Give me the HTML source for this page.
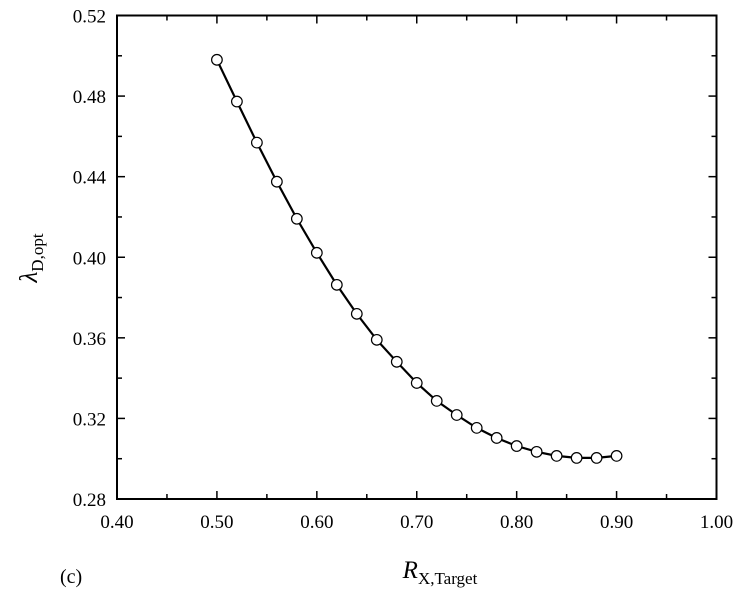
<!DOCTYPE html>
<html><head><meta charset="utf-8"><style>
html,body{margin:0;padding:0;background:#fff;}
svg{display:block;font-family:"Liberation Serif",serif;}
.tl{font-size:19px;font-family:"Liberation Serif",serif;}
</style></head><body>
<svg id="chart" width="745" height="591">
<g id="plot"></g>
</svg>
<script>
const xValues=[0.50,0.52,0.54,0.56,0.58,0.60,0.62,0.64,0.66,0.68,0.70,0.72,0.74,0.76,0.78,0.80,0.82,0.84,0.86,0.88,0.90];
const yValues=[0.498,0.4773,0.4569,0.4375,0.4191,0.4022,0.3863,0.3719,0.3590,0.3481,0.3376,0.3287,0.3217,0.3153,0.3103,0.3063,0.3034,0.3014,0.3004,0.3004,0.3014];
const xTicks=[0.40,0.50,0.60,0.70,0.80,0.90,1.00];
const yTicks=[0.28,0.32,0.36,0.40,0.44,0.48,0.52];
const L=117,R=716.5,T=15.5,B=499;
const xs=v=>L+(v-0.40)/0.60*(R-L);
const ys=v=>B-(v-0.28)/0.24*(B-T);
const NS="http://www.w3.org/2000/svg";
const g=document.getElementById('plot');
function mk(t,a,p){const e=document.createElementNS(NS,t);for(const k in a)e.setAttribute(k,a[k]);(p||g).appendChild(e);return e;}
const fr=mk('rect',{x:L,y:T,width:R-L,height:B-T,fill:'none',stroke:'#000','stroke-width':2});


xTicks.forEach((v,i)=>{
 const x=xs(v);
 mk('line',{x1:x,y1:B,x2:x,y2:B-8,stroke:'#000','stroke-width':1.5});
 mk('line',{x1:x,y1:T,x2:x,y2:T+8,stroke:'#000','stroke-width':1.5});
 if(i<xTicks.length-1){const m=xs(v+0.05);
  mk('line',{x1:m,y1:B,x2:m,y2:B-5,stroke:'#000','stroke-width':1.5});
  mk('line',{x1:m,y1:T,x2:m,y2:T+5,stroke:'#000','stroke-width':1.5});}
 const t=mk('text',{x:x,y:B+29,'text-anchor':'middle','class':'tl'});
 t.textContent=v.toFixed(2);
 
 
});
yTicks.forEach((v,i)=>{
 const y=ys(v);
 mk('line',{x1:L,y1:y,x2:L+8,y2:y,stroke:'#000','stroke-width':1.5});
 mk('line',{x1:R,y1:y,x2:R-8,y2:y,stroke:'#000','stroke-width':1.5});
 if(i<yTicks.length-1){const m=ys(v+0.02);
  mk('line',{x1:L,y1:m,x2:L+5,y2:m,stroke:'#000','stroke-width':1.5});
  mk('line',{x1:R,y1:m,x2:R-5,y2:m,stroke:'#000','stroke-width':1.5});}
 const t=mk('text',{x:106,y:y+7,'text-anchor':'end','class':'tl'});
 t.textContent=v.toFixed(2);
 
 
});
const line=mk('polyline',{points:xValues.map((x,i)=>xs(x)+','+ys(yValues[i])).join(' '),fill:'none',stroke:'#000','stroke-width':2.2});


xValues.forEach((x,i)=>{
 const c=mk('circle',{cx:xs(x),cy:ys(yValues[i]),r:5.3,fill:'#fff',stroke:'#000','stroke-width':1.2});
 
 
});
</script>
<svg style="position:absolute;left:0;top:0" width="745" height="591">
<text transform="translate(37,258) rotate(-90)" text-anchor="middle" style="font-family:'Liberation Serif',serif;font-size:25px"><tspan font-style="italic">λ</tspan><tspan style="font-size:17px" dy="6">D,opt</tspan></text>
<text x="440" y="578" text-anchor="middle" style="font-family:'Liberation Serif',serif;font-size:25px"><tspan font-style="italic">R</tspan><tspan style="font-size:17px" dy="6">X,Target</tspan></text>
<text x="60" y="583" style="font-family:'Liberation Serif',serif;font-size:20px">(c)</text>
</svg>
</body></html>
